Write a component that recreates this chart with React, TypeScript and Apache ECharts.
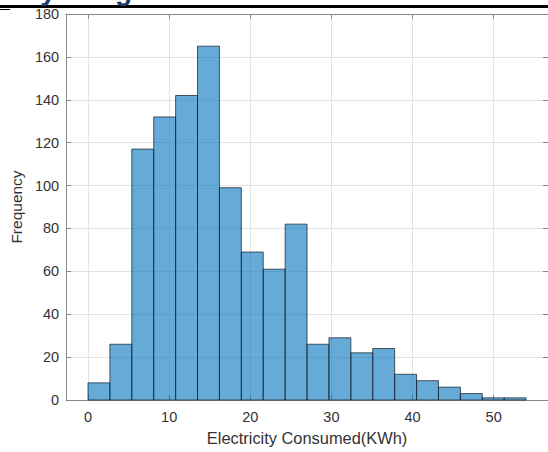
import React, { useEffect, useRef } from "react";
import * as echarts from "echarts";

const binEdges = [0, 2.7, 5.4, 8.1, 10.8, 13.5, 16.2, 18.9, 21.6, 24.3, 27, 29.7, 32.4, 35.1, 37.8, 40.5, 43.2, 45.9, 48.6, 51.3, 54];
const counts = [8, 26, 117, 132, 142, 165, 99, 69, 61, 82, 26, 29, 22, 24, 12, 9, 6, 3, 1, 1];
const xTicks = [0, 10, 20, 30, 40, 50];
const yTicks = [0, 20, 40, 60, 80, 100, 120, 140, 160, 180];
const xLabel = "Electricity Consumed(KWh)";
const yLabel = "Frequency";
const headerTitle = "Daily Usage";

const FONT = "'Liberation Sans', Arial, Helvetica, sans-serif";

export default function App() {
  const ref = useRef<HTMLDivElement>(null);
  useEffect(() => {
    if (!ref.current) return;
    const chart = echarts.init(ref.current, null, { renderer: "svg" });
    const data = counts.map((c, i) => [binEdges[i], binEdges[i + 1], c]);
    const axisLineStyle = { color: "#8a8a8a", width: 1 };
    const option: any = {
      animation: false,
      backgroundColor: "#ffffff",
      grid: { left: 62, right: -2.4, top: 14, bottom: 52, containLabel: false },
      xAxis: [
        {
          type: "value",
          min: -2.7,
          max: 56.7,
          interval: 10,
          position: "bottom",
          name: xLabel,
          nameLocation: "middle",
          nameGap: 29.5,
          nameTextStyle: { fontFamily: FONT, fontSize: 16.4, color: "#333" },
          axisLine: { show: true, onZero: false, lineStyle: axisLineStyle },
          axisTick: { show: true, inside: true, length: 5, lineStyle: axisLineStyle, customValues: xTicks },
          axisLabel: {
            fontFamily: FONT,
            fontSize: 14.5,
            color: "#333",
            margin: 9,
            customValues: xTicks,
          },
          splitLine: { show: true, lineStyle: { color: "#e3e3e3", width: 1 } },
        },
        {
          type: "value",
          min: -2.7,
          max: 56.7,
          interval: 10,
          position: "top",
          axisLine: { show: true, onZero: false, lineStyle: axisLineStyle },
          axisTick: { show: true, inside: true, length: 5, lineStyle: axisLineStyle, customValues: xTicks },
          axisLabel: { show: false },
          splitLine: { show: false },
        },
      ],
      yAxis: [
        {
          type: "value",
          min: 0,
          max: 180,
          interval: 20,
          position: "left",
          name: yLabel,
          nameLocation: "middle",
          nameGap: 37,
          nameRotate: 90,
          nameTextStyle: { fontFamily: FONT, fontSize: 15.5, color: "#333" },
          axisLine: { show: true, onZero: false, lineStyle: axisLineStyle },
          axisTick: { show: true, inside: true, length: 5, lineStyle: axisLineStyle },
          axisLabel: { fontFamily: FONT, fontSize: 14.5, color: "#333", margin: 7, customValues: yTicks },
          splitLine: { show: true, lineStyle: { color: "#e3e3e3", width: 1 } },
        },
        {
          type: "value",
          min: 0,
          max: 180,
          interval: 20,
          position: "right",
          axisLine: { show: true, onZero: false, lineStyle: axisLineStyle },
          axisTick: { show: true, inside: true, length: 5, lineStyle: axisLineStyle },
          axisLabel: { show: false },
          splitLine: { show: false },
        },
      ],
      series: [
        {
          type: "custom",
          xAxisIndex: 0,
          yAxisIndex: 0,
          encode: { x: [0, 1], y: 2 },
          data,
          renderItem: (params: any, api: any) => {
            const s = api.value(0);
            const e = api.value(1);
            const c = api.value(2);
            const p0 = api.coord([s, c]);
            const p1 = api.coord([e, 0]);
            return {
              type: "rect",
              shape: { x: p0[0], y: p0[1], width: p1[0] - p0[0], height: p1[1] - p0[1] },
              style: { fill: "rgba(0,114,189,0.6)", stroke: "rgba(20,30,40,0.8)", lineWidth: 0.9 },
            };
          },
        },
      ],
      graphic: [
        { type: "rect", left: 0, top: 5, shape: { width: 548, height: 3 }, style: { fill: "#000" }, silent: true },
        { type: "rect", left: 0, top: 9, shape: { width: 10, height: 1 }, style: { fill: "#000" }, silent: true },
        {
          type: "text",
          x: -11,
          y: 4,
          style: {
            text: headerTitle,
            fontFamily: FONT,
            fontWeight: "bold",
            fontSize: 28,
            fill: "#1f3a6b",
            verticalAlign: "bottom",
          },
          silent: true,
        },
      ],
    };
    chart.setOption(option);
    return () => chart.dispose();
  }, []);
  return (
    <div
      ref={ref}
      style={{ position: "fixed", left: 0, top: 0, width: 548, height: 452, background: "#fff" }}
    />
  );
}
